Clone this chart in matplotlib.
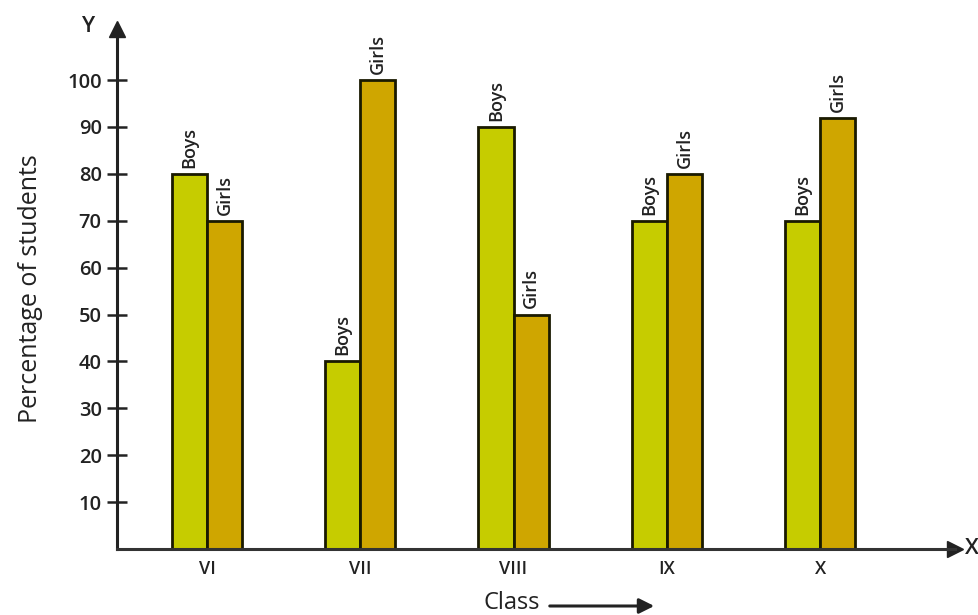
"""Bar chart: percentage of boys and girls per class (VI to X)."""
import numpy as np
import matplotlib

matplotlib.use("Agg")
import matplotlib.pyplot as plt

plt.rcParams.update({"font.family": ["Open Sans", "DejaVu Sans"], "font.size": 11})

CLASSES = ["VI", "VII", "VIII", "IX", "X"]
BOYS = [80, 40, 90, 70, 70]
GIRLS = [70, 100, 50, 80, 92]
Y_TICKS = [10, 20, 30, 40, 50, 60, 70, 80, 90, 100]

BOYS_COLOR = "#c6cc00"
GIRLS_COLOR = "#cfa600"
INK = "#222222"

fig = plt.figure(figsize=(9.79, 6.15), dpi=100)
ax = fig.add_axes([117 / 979, 66 / 615, 838 / 979, 520 / 615])

x = np.arange(len(CLASSES))
w = 0.229
ax.bar(x - w / 2, BOYS, w, color=BOYS_COLOR, edgecolor="#1a1a00", lw=2)
ax.bar(x + w / 2, GIRLS, w, color=GIRLS_COLOR, edgecolor="#1a1a00", lw=2)

# rotated series names sitting on top of each bar
for xi, b, g in zip(x, BOYS, GIRLS):
    ax.text(xi - w / 2, b + 1.3, "Boys", rotation=90, ha="center", va="bottom",
            fontsize=13, fontweight="semibold", color=INK)
    ax.text(xi + w / 2, g + 1.3, "Girls", rotation=90, ha="center", va="bottom",
            fontsize=13, fontweight="semibold", color=INK)

ax.set_xlim(-0.587, 4.88)
ax.set_ylim(0, 110.9)

for s in ("top", "right"):
    ax.spines[s].set_visible(False)
ax.spines["left"].set_linewidth(2.2)
ax.spines["bottom"].set_linewidth(2.2)
ax.spines["left"].set_color(INK)
ax.spines["bottom"].set_color("#333333")

# axis arrow heads
ax.plot(1, 0, ">", color=INK, ms=12, transform=ax.get_yaxis_transform(), clip_on=False)
ax.plot(0, 1, "^", color=INK, ms=12, transform=ax.transAxes, clip_on=False)
ax.text(1.012, 0, "X", transform=ax.transAxes, ha="left", va="center", fontsize=16,
        fontweight="semibold", color=INK)
ax.text(-0.035, 1.005, "Y", transform=ax.transAxes, ha="center", va="center", fontsize=16,
        fontweight="semibold", color=INK)

ax.set_yticks(Y_TICKS)
ax.tick_params(axis="y", direction="inout", length=14, width=1.8, labelsize=14.5,
               colors=INK, pad=4)
for lab in ax.get_yticklabels():
    lab.set_fontweight("semibold")
ax.set_xticks(x)
ax.set_xticklabels(CLASSES, fontweight="semibold")
ax.tick_params(axis="x", length=0, labelsize=13, colors=INK, pad=8)

ax.set_ylabel("Percentage of students", fontsize=18, color=INK, labelpad=17)

fig.text(512 / 979, 1 - 603 / 615, "Class", ha="center", va="center", fontsize=17, color=INK)
fig.patches.append(matplotlib.patches.FancyArrowPatch(
    (547 / 979, 1 - 606 / 615), (657 / 979, 1 - 606 / 615), transform=fig.transFigure,
    arrowstyle="-|>,head_length=9,head_width=4.5", color=INK, lw=2.2, figure=fig))

fig.savefig("out.png")
